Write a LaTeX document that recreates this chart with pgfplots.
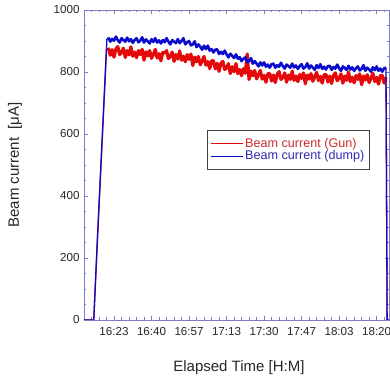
\documentclass[border=0pt]{standalone}
\usepackage{pgfplots}
\pgfplotsset{compat=1.18}
\usepackage{fontspec}
\setmainfont{Liberation Sans}
\definecolor{axcol}{RGB}{125,125,195}
\definecolor{gunred}{RGB}{228,10,10}
\definecolor{dumpblue}{RGB}{10,10,205}
\definecolor{legred}{RGB}{205,45,45}
\definecolor{legblue}{RGB}{45,45,175}
\begin{document}
\begin{tikzpicture}
\begin{axis}[
  at={(0pt,0pt)}, anchor=south west,
  scale only axis, width=305pt, height=310pt,
  xmin=-0.8, xmax=7.33, ymin=0, ymax=1000,
  xtick={-1,0,1,2,3,4,5,6,7,8},
  xticklabels={,16:23,16:40,16:57,17:13,17:30,17:47,18:03,18:20,},
  minor x tick num=4,
  ytick={0,200,400,600,800,1000},
  minor y tick num=3,
  axis line style={draw=axcol},
  every tick/.style={draw=axcol},
  major tick length=4pt, minor tick length=2.5pt,
  /pgf/number format/1000 sep={},
  /pgf/number format/assume math mode=true,
  tick label style={font=\fontsize{11.6}{14}\selectfont, text=black!85},
  xticklabel style={yshift=-4pt},
  yticklabel style={xshift=-1pt},
  xlabel={Elapsed Time [H:M]},
  ylabel={Beam current\ \ [μA]},
  label style={font=\fontsize{15}{18}\selectfont, text=black!85},
  xlabel style={at={(axis description cs:0.508,-0.155)}, anchor=center},
  ylabel style={at={(axis description cs:-0.226,0.5)}, anchor=center},
  legend style={at={(axis description cs:0.403,0.613)}, anchor=north west,
    draw=black!75, font=\fontsize{12.6}{12.6}\selectfont, inner xsep=3pt, inner ysep=6pt,
    row sep=-2pt},
  legend cell align=left,
  legend image code/.code={\draw[#1] (0pt,0pt) -- (32pt,0pt);},
]
\addlegendimage{gunred, line width=1.1pt}
\addlegendentry{\textcolor{legred}{Beam current (Gun)}}
\addlegendimage{dumpblue, line width=1.1pt}
\addlegendentry{\textcolor{legblue}{Beam current (dump)}}
% red ramp and drop
\addplot[gunred, line width=1.3pt, forget plot] table {
x y
-0.80 0
-0.54 0
-0.45 235
-0.20 870
-0.15 878
};
\addplot[gunred, line width=1.3pt, forget plot] table {
x y
7.25 783
7.28 0
7.50 0
};
% red band
\addplot[gunred, line width=3.2pt, line join=round, forget plot] table {
x y
-0.15 878
-0.10 854
-0.05 872
0.00 848
0.05 874
0.10 882
0.15 856
0.20 863
0.25 877
0.30 847
0.35 869
0.40 855
0.45 881
0.50 851
0.55 864
0.60 846
0.65 869
0.70 856
0.75 873
0.80 838
0.85 865
0.90 852
0.95 869
1.00 844
1.05 857
1.10 873
1.15 845
1.20 859
1.25 836
1.30 863
1.35 861
1.40 869
1.45 843
1.50 850
1.55 864
1.60 834
1.65 856
1.70 842
1.75 868
1.80 838
1.85 851
1.90 833
1.95 856
2.00 841
2.05 858
2.10 821
2.15 848
2.20 833
2.25 850
2.30 823
2.35 836
2.40 850
2.45 822
2.50 834
2.55 811
2.60 836
2.65 836
2.70 810
2.75 828
2.80 802
2.85 828
2.90 834
2.95 808
3.00 813
3.05 827
3.10 795
3.15 817
3.20 801
3.25 827
3.30 795
3.35 808
3.40 788
3.45 811
3.50 796
3.55 858
3.60 776
3.65 803
3.70 788
3.75 805
3.80 778
3.85 791
3.90 805
3.95 777
4.00 789
4.05 767
4.10 794
4.15 795
4.20 771
4.25 790
4.30 766
4.35 793
4.40 801
4.45 776
4.50 782
4.55 797
4.60 767
4.65 790
4.70 776
4.75 803
4.80 773
4.85 787
4.90 769
4.95 792
5.00 779
5.05 797
5.10 762
5.15 790
5.20 777
5.25 795
5.30 770
5.35 784
5.40 799
5.45 772
5.50 786
5.55 764
5.60 791
5.65 792
5.70 768
5.75 787
5.80 763
5.85 789
5.90 797
5.95 772
6.00 779
6.05 794
6.10 764
6.15 787
6.20 773
6.25 800
6.30 769
6.35 783
6.40 765
6.45 789
6.50 776
6.55 794
6.60 759
6.65 787
6.70 774
6.75 791
6.80 766
6.85 780
6.90 796
6.95 769
7.00 783
7.05 761
7.10 788
7.15 789
7.20 764
7.25 783
};
% blue band
\addplot[dumpblue, line width=2.6pt, line join=round, forget plot] table {
x y
-0.15 911
-0.10 898
-0.05 907
0.00 901
0.05 914
0.10 903
0.15 895
0.20 909
0.25 903
0.30 898
0.35 911
0.40 899
0.45 906
0.50 894
0.55 903
0.60 909
0.65 896
0.70 901
0.75 912
0.80 895
0.85 905
0.90 899
0.95 892
1.00 906
1.05 897
1.10 909
1.15 895
1.20 902
1.25 892
1.30 903
1.35 896
1.40 909
1.45 898
1.50 889
1.55 903
1.60 898
1.65 893
1.70 906
1.75 893
1.80 900
1.85 909
1.90 889
1.95 896
2.00 900
2.05 886
2.10 889
2.15 899
2.20 880
2.25 889
2.30 881
2.35 872
2.40 885
2.45 874
2.50 885
2.55 869
2.60 874
2.65 863
2.70 872
2.75 873
2.80 858
2.85 865
2.90 858
2.95 869
3.00 857
3.05 847
3.10 859
3.15 852
3.20 845
3.25 857
3.30 843
3.35 848
3.40 835
3.45 843
3.50 847
3.55 832
3.60 835
3.65 845
3.70 827
3.75 835
3.80 827
3.85 818
3.90 831
3.95 821
4.00 831
4.05 817
4.10 824
4.15 814
4.20 825
4.25 827
4.30 814
4.35 822
4.40 817
4.45 830
4.50 819
4.55 811
4.60 824
4.65 819
4.70 814
4.75 827
4.80 815
4.85 821
4.90 810
4.95 819
5.00 825
5.05 811
5.10 816
5.15 828
5.20 811
5.25 821
5.30 814
5.35 807
5.40 822
5.45 813
5.50 825
5.55 810
5.60 817
5.65 808
5.70 819
5.75 820
5.80 807
5.85 816
5.90 811
5.95 824
6.00 812
6.05 804
6.10 818
6.15 813
6.20 807
6.25 820
6.30 808
6.35 815
6.40 804
6.45 812
6.50 818
6.55 805
6.60 810
6.65 822
6.70 804
6.75 814
6.80 808
6.85 801
6.90 815
6.95 806
7.00 818
7.05 804
7.10 811
7.15 801
7.20 812
7.25 814
};
% blue ramp and drop
\addplot[dumpblue, line width=1.3pt, forget plot] table {
x y
-0.80 0
-0.54 0
-0.45 245
-0.19 905
-0.15 911
};
\addplot[dumpblue, line width=1.3pt, forget plot] table {
x y
7.25 814
7.28 0
7.50 0
};
\end{axis}
\pgfresetboundingbox
\path (-84pt,-59pt) rectangle (306pt,320pt);
\end{tikzpicture}
\end{document}
